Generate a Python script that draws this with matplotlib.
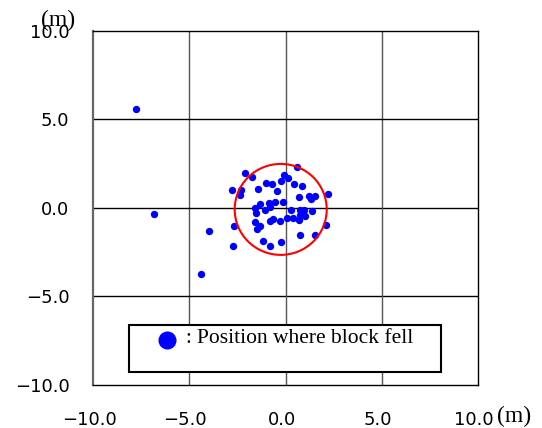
import matplotlib.pyplot as plt
from matplotlib.patches import Ellipse, Rectangle
from matplotlib.transforms import ScaledTranslation

# block landing positions (m)
fall_x = [0.61, -2.12, -1.75, -0.10, 0.12, -0.22, 0.43, 0.87, -1.04, -0.69,
          -2.76, -2.33, -2.35, -1.41, -0.43, 0.69, 1.24, 1.55, 1.31, 2.21,
          -1.31, -0.88, -0.53, -0.14, -1.61, -1.05, -0.79, -1.52, 0.26, 0.76,
          0.97, 1.40, 0.76, 1.02, -1.61, -0.83, -0.66, -0.31, 0.07, 0.38,
          0.69, -1.31, -1.49, -2.69, -3.97, 2.11, 0.73, 1.55, -2.73, -1.18,
          -0.79, -0.22, -4.39, -7.79, -6.84]
fall_y = [2.30, 1.96, 1.75, 1.86, 1.68, 1.54, 1.36, 1.26, 1.41, 1.37,
          1.03, 1.03, 0.75, 1.09, 0.94, 0.64, 0.69, 0.69, 0.53, 0.81,
          0.21, 0.28, 0.32, 0.36, -0.02, -0.10, 0.04, -0.30, -0.11, -0.11,
          -0.11, -0.19, -0.38, -0.44, -0.77, -0.72, -0.62, -0.72, -0.58, -0.58,
          -0.66, -1.03, -1.20, -1.00, -1.28, -0.94, -1.51, -1.51, -2.13, -1.88,
          -2.13, -1.94, -3.71, 5.59, -0.36]

circle_center = (-0.25, -0.08)
circle_size = (4.78, 5.14)

ticks = [-10, -5, 0, 5, 10]
tick_labels = ["\u221210.0", "\u22125.0", "0.0", "5.0", "10.0"]

fig = plt.figure(figsize=(5.42, 4.28), dpi=100)
ax = fig.add_axes([0.1716, 0.1005, 0.7104, 0.8271])

ax.set_xlim(-10, 10)
ax.set_ylim(-10, 10)
ax.set_xticks(ticks)
ax.set_yticks(ticks)
ax.set_xticklabels(tick_labels, family="DejaVu Sans", fontsize=13)
ax.set_yticklabels(tick_labels, family="DejaVu Sans", fontsize=13)
ax.tick_params(length=0)
ax.tick_params(axis="x", pad=18.5)
ax.tick_params(axis="y", pad=17)
shift = ScaledTranslation(-4 / 100, 0, fig.dpi_scale_trans)
for lab in ax.get_xticklabels():
    lab.set_transform(lab.get_transform() + shift)

for v in [-5, 0, 5]:
    ax.axvline(v, color="#555555", lw=1.0, zorder=1)
    ax.axhline(v, color="black", lw=1.0, zorder=1)
for s in ax.spines.values():
    s.set_linewidth(1.0)
ax.spines["left"].set_color("#666666")
ax.spines["left"].set_linewidth(1.6)

ax.scatter(fall_x, fall_y, s=28, color="#0000ff", linewidths=0, zorder=3)
ax.add_patch(Ellipse(circle_center, circle_size[0], circle_size[1],
                     fill=False, edgecolor="#ff0000", lw=1.5, zorder=4))

# legend box drawn inside the axes
ax.add_patch(Rectangle((-8.13, -9.27), 16.21, 2.66, facecolor="white",
                       edgecolor="black", lw=1.5, zorder=5))
ax.plot([-6.15], [-7.45], "o", color="#0000ff", markersize=12, zorder=6)
ax.text(-5.2, -7.4, ":", family="Liberation Serif", fontsize=15,
        va="center", ha="left", zorder=6)
ax.text(-4.6, -7.4, "Position where block fell", family="Liberation Serif",
        fontsize=15.5, va="center", ha="left", zorder=6)

# unit labels
fig.text(58 / 542, 1 - 20 / 428, "(m)", family="Liberation Serif", fontsize=17,
         ha="center", va="center")
fig.text(514 / 542, 1 - 416 / 428, "(m)", family="Liberation Serif", fontsize=17,
         ha="center", va="center")

fig.savefig("out.png", dpi=100)
